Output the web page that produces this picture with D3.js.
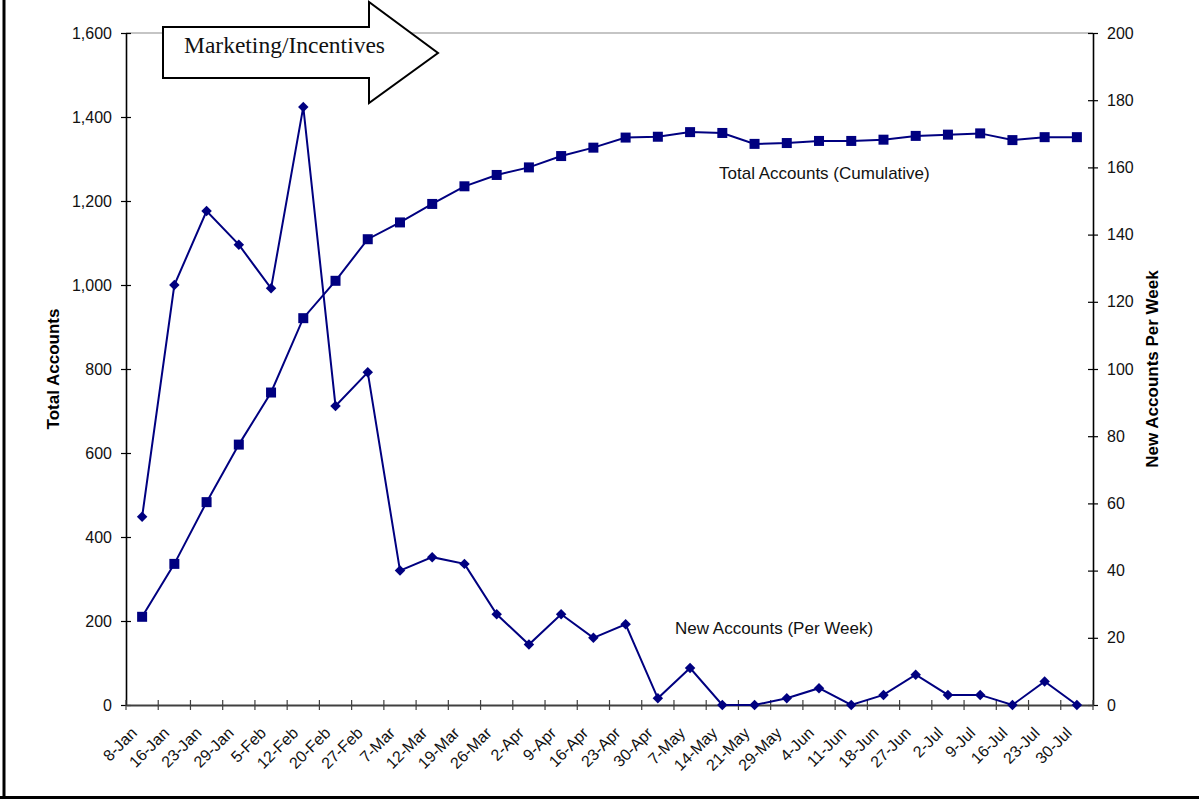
<!DOCTYPE html>
<html>
<head>
<meta charset="utf-8">
<script src="https://cdn.jsdelivr.net/npm/d3@7"></script>
<style>
  html, body { margin: 0; padding: 0; background: #fff; }
  svg { display: block; font-family: "Liberation Sans", Arial, sans-serif; }
</style>
</head>
<body>
<svg id="chart" width="1199" height="804"></svg>
<script>
// Weekly account figures
const weeks = ["8-Jan","16-Jan","23-Jan","29-Jan","5-Feb","12-Feb","20-Feb","27-Feb","7-Mar","12-Mar",
  "19-Mar","26-Mar","2-Apr","9-Apr","16-Apr","23-Apr","30-Apr","7-May","14-May","21-May",
  "29-May","4-Jun","11-Jun","18-Jun","27-Jun","2-Jul","9-Jul","16-Jul","23-Jul","30-Jul"];
const totalAccounts = [210,336,483,620,744,921,1010,1109,1149,1193,
  1235,1262,1280,1307,1327,1351,1353,1364,1362,1336,
  1338,1343,1343,1346,1355,1358,1361,1345,1352,1352];
const newAccounts = [56,125,147,137,124,178,89,99,40,44,
  42,27,18,27,20,24,2,11,0,0,
  2,5,0,3,9,3,3,0,7,0];
const leftTicks = [0,200,400,600,800,1000,1200,1400,1600];
const rightTicks = [0,20,40,60,80,100,120,140,160,180,200];

const svg = d3.select("#chart");
const plotLeft = 126, plotRight = 1093, plotTop = 33, plotBottom = 705;
const navy = "#000080";

const x = d3.scaleBand().domain(weeks).range([plotLeft, plotRight]).padding(0);
const yL = d3.scaleLinear().domain([0, 1600]).range([plotBottom, plotTop]);
const yR = d3.scaleLinear().domain([0, 200]).range([plotBottom, plotTop]);
const cx = d => x(d) + x.bandwidth() / 2;

// frame edges
svg.append("line").attr("x1", 4).attr("x2", 4).attr("y1", 0).attr("y2", 798)
  .attr("stroke", "#000").attr("stroke-width", 3);
svg.append("line").attr("x1", 0).attr("x2", 1199).attr("y1", 797.5).attr("y2", 797.5)
  .attr("stroke", "#000").attr("stroke-width", 3);

// plot top border
svg.append("line").attr("x1", plotLeft).attr("x2", plotRight).attr("y1", plotTop).attr("y2", plotTop)
  .attr("stroke", "#8c8c8c").attr("stroke-width", 1.2);

// left axis
const gL = svg.append("g").attr("transform", `translate(${plotLeft},0)`)
  .call(d3.axisLeft(yL).tickValues(leftTicks).tickFormat(d3.format(","))
    .tickSizeInner(5).tickSizeOuter(0).tickPadding(9));
gL.select(".domain").attr("stroke", "#000").attr("stroke-width", 1.6);
gL.selectAll(".tick line").attr("x1", 5).attr("stroke", "#000").attr("stroke-width", 1.2);
gL.selectAll(".tick text").style("font-size", "16px").attr("fill", "#111")
  .style("font-family", "'Liberation Sans', Arial, sans-serif");

// right axis
const gR = svg.append("g").attr("transform", `translate(${plotRight},0)`)
  .call(d3.axisRight(yR).tickValues(rightTicks)
    .tickSizeInner(5).tickSizeOuter(0).tickPadding(9));
gR.select(".domain").attr("stroke", "#000").attr("stroke-width", 1.6);
gR.selectAll(".tick line").attr("x1", -5).attr("stroke", "#000").attr("stroke-width", 1.2);
gR.selectAll(".tick text").style("font-size", "16px").attr("fill", "#111")
  .style("font-family", "'Liberation Sans', Arial, sans-serif");

// bottom axis: labels at week centres, ticks at week boundaries
const gB = svg.append("g").attr("transform", `translate(0,${plotBottom})`)
  .call(d3.axisBottom(x).tickSize(0).tickSizeOuter(0));
gB.select(".domain").attr("stroke", "#404040").attr("stroke-width", 2);
gB.selectAll(".tick text")
  .attr("x", 0).attr("y", 0).attr("dy", null)
  .attr("transform", "translate(-4,29) rotate(-45)")
  .style("text-anchor", "end").style("font-size", "16px").attr("fill", "#111")
  .style("font-family", "'Liberation Sans', Arial, sans-serif");
const bounds = weeks.map(d => x(d)).concat([plotRight]);
svg.append("g").selectAll("line").data(bounds).join("line")
  .attr("x1", d => d).attr("x2", d => d)
  .attr("y1", plotBottom - 5).attr("y2", plotBottom + 5)
  .attr("stroke", "#404040").attr("stroke-width", 1.2);

// axis titles
svg.append("text").attr("transform", `translate(59,${(plotTop + plotBottom) / 2}) rotate(-90)`)
  .attr("text-anchor", "middle").style("font-size", "17px").style("font-weight", "bold")
  .text("Total Accounts");
svg.append("text").attr("transform", `translate(1158,${(plotTop + plotBottom) / 2}) rotate(-90)`)
  .attr("text-anchor", "middle").style("font-size", "17px").style("font-weight", "bold")
  .text("New Accounts Per Week");

// cumulative total series
const lineL = d3.line().x((d, i) => cx(weeks[i])).y(d => yL(d));
svg.append("path").datum(totalAccounts).attr("d", lineL)
  .attr("fill", "none").attr("stroke", navy).attr("stroke-width", 2);
svg.append("g").selectAll("rect").data(totalAccounts).join("rect")
  .attr("x", (d, i) => cx(weeks[i]) - 5).attr("y", d => yL(d) - 5)
  .attr("width", 10).attr("height", 10).attr("fill", navy);

// new accounts per week series
const lineR = d3.line().x((d, i) => cx(weeks[i])).y(d => yR(d));
svg.append("path").datum(newAccounts).attr("d", lineR)
  .attr("fill", "none").attr("stroke", navy).attr("stroke-width", 2);
const diamond = d3.symbol().type(d3.symbolDiamond2).size(70);
svg.append("g").selectAll("path").data(newAccounts).join("path")
  .attr("transform", (d, i) => `translate(${cx(weeks[i])},${yR(d)})`)
  .attr("d", diamond).attr("fill", navy);

// series labels
svg.append("text").attr("x", 719).attr("y", 179).style("font-size", "17px").attr("fill", "#111")
  .text("Total Accounts (Cumulative)");
svg.append("text").attr("x", 675).attr("y", 634).style("font-size", "17px").attr("fill", "#111")
  .text("New Accounts (Per Week)");

// campaign arrow
const arrowPts = [[163, 27], [369, 27], [369, 2], [438, 53], [369, 103], [369, 78], [163, 78]];
svg.append("polygon").attr("points", arrowPts.map(p => p.join(",")).join(" "))
  .attr("fill", "#fff").attr("stroke", "#000").attr("stroke-width", 2)
  .attr("stroke-linejoin", "miter");
svg.append("text").attr("x", 184).attr("y", 53)
  .style("font-family", "'Liberation Serif', 'Times New Roman', serif")
  .style("font-size", "23.5px").attr("fill", "#111")
  .text("Marketing/Incentives");
</script>
</body>
</html>
